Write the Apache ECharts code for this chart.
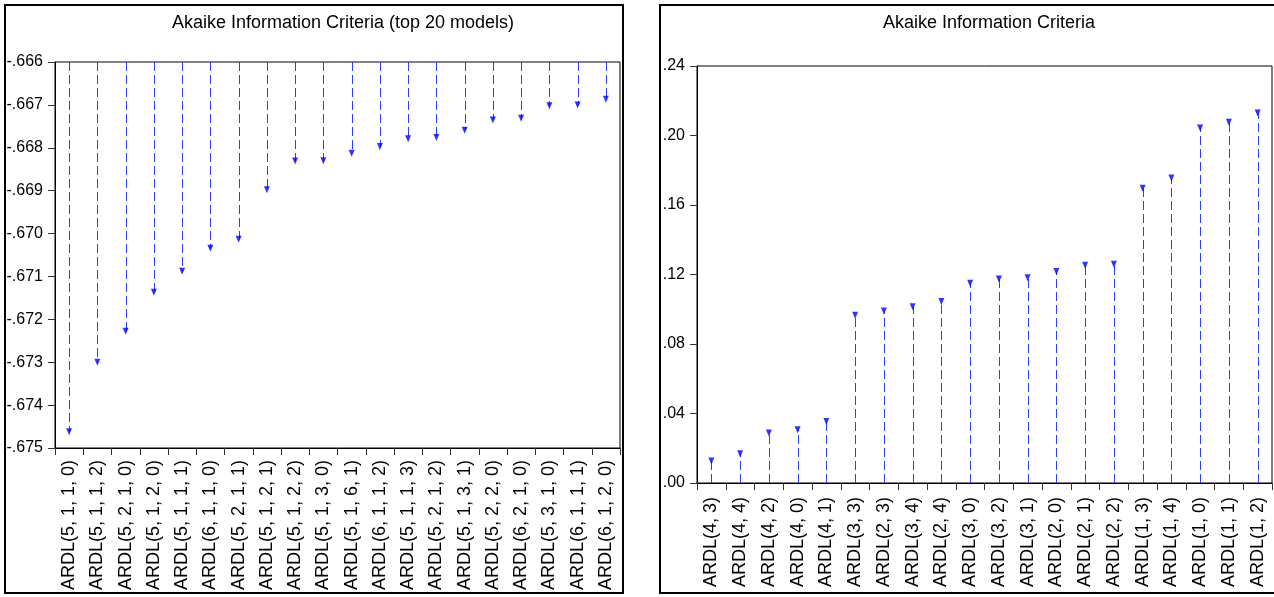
<!DOCTYPE html>
<html>
<head>
<meta charset="utf-8">
<script src="https://cdn.jsdelivr.net/npm/echarts@6/dist/echarts.min.js"></script>
<style>
  html, body { margin: 0; padding: 0; background: #fff; }
  #main { width: 1274px; height: 597px; }
</style>
</head>
<body>
<div id="main"></div>
<script>
// left panel: top 20 models
var leftModels = [
  'ARDL(5, 1, 1, 0)', 'ARDL(5, 1, 1, 2)', 'ARDL(5, 2, 1, 0)', 'ARDL(5, 1, 2, 0)',
  'ARDL(5, 1, 1, 1)', 'ARDL(6, 1, 1, 0)', 'ARDL(5, 2, 1, 1)', 'ARDL(5, 1, 2, 1)',
  'ARDL(5, 1, 2, 2)', 'ARDL(5, 1, 3, 0)', 'ARDL(5, 1, 6, 1)', 'ARDL(6, 1, 1, 2)',
  'ARDL(5, 1, 1, 3)', 'ARDL(5, 2, 1, 2)', 'ARDL(5, 1, 3, 1)', 'ARDL(5, 2, 2, 0)',
  'ARDL(6, 2, 1, 0)', 'ARDL(5, 3, 1, 0)', 'ARDL(6, 1, 1, 1)', 'ARDL(6, 1, 2, 0)'
];
var leftAic = [
  -0.67462, -0.67300, -0.67228, -0.67137, -0.67088, -0.67034, -0.67013, -0.66898,
  -0.66831, -0.66830, -0.66813, -0.66797, -0.66779, -0.66776, -0.66759, -0.66735,
  -0.66731, -0.66702, -0.66700, -0.66687
];
var leftBase = -0.666;

// right panel
var rightModels = [
  'ARDL(4, 3)', 'ARDL(4, 4)', 'ARDL(4, 2)', 'ARDL(4, 0)', 'ARDL(4, 1)',
  'ARDL(3, 3)', 'ARDL(2, 3)', 'ARDL(3, 4)', 'ARDL(2, 4)', 'ARDL(3, 0)',
  'ARDL(3, 2)', 'ARDL(3, 1)', 'ARDL(2, 0)', 'ARDL(2, 1)', 'ARDL(2, 2)',
  'ARDL(1, 3)', 'ARDL(1, 4)', 'ARDL(1, 0)', 'ARDL(1, 1)', 'ARDL(1, 2)'
];
var rightAic = [
  0.0127, 0.0169, 0.0288, 0.0306, 0.0354,
  0.0965, 0.0990, 0.1015, 0.1044, 0.1149,
  0.1174, 0.1182, 0.1217, 0.1253, 0.1259,
  0.1697, 0.1755, 0.2043, 0.2076, 0.2130
];
var rightBase = 0;

var chart = echarts.init(document.getElementById('main'));

var FONT = 'Liberation Sans, Arial, sans-serif';
var stemColor = '#1428ff';

function stemSeries(idx, vals, base) {
  return {
    type: 'custom',
    xAxisIndex: idx,
    yAxisIndex: idx,
    data: vals.map(function (v, i) { return [i, v]; }),
    encode: { x: 0, y: 1 },
    renderItem: function (params, api) {
      var p0 = api.coord([api.value(0), base]);
      var p1 = api.coord([api.value(0), api.value(1)]);
      // snap to pixel so the 1px dashes stay crisp
      var x = Math.round(p0[0]) + 0.5;
      return {
        type: 'line',
        shape: { x1: x, y1: p0[1], x2: x, y2: p1[1] },
        style: { stroke: stemColor, lineWidth: 1, lineDash: [9, 4], opacity: 0.9 }
      };
    },
    silent: true
  };
}

function markerSeries(idx, vals) {
  return {
    type: 'scatter',
    xAxisIndex: idx,
    yAxisIndex: idx,
    data: vals,
    symbol: 'triangle',
    symbolRotate: 180,
    symbolSize: [6, 7],
    itemStyle: { color: '#0000ff' },
    silent: true
  };
}

function catAxis(idx, cats, margin) {
  return {
    type: 'category',
    gridIndex: idx,
    data: cats,
    boundaryGap: true,
    axisLine: { lineStyle: { color: '#000', width: 1 } },
    axisTick: { show: true, length: 7, lineStyle: { color: '#333' } },
    axisLabel: {
      rotate: 90, interval: 0, margin: margin,
      color: '#000', fontFamily: FONT, fontSize: 18
    },
    splitLine: { show: false }
  };
}

function valAxis(idx, min, max, interval, digits) {
  return {
    type: 'value',
    gridIndex: idx,
    min: min, max: max, interval: interval,
    axisLine: { show: true, lineStyle: { color: '#000', width: 1 } },
    axisTick: { show: true, length: 7, lineStyle: { color: '#333' } },
    axisLabel: {
      margin: 12, color: '#000', fontFamily: FONT, fontSize: 16,
      formatter: function (v) { return v.toFixed(digits).replace('0.', '.'); }
    },
    splitLine: { show: false }
  };
}

chart.setOption({
  animation: false,
  backgroundColor: '#fff',
  title: [
    {
      text: 'Akaike Information Criteria (top 20 models)',
      left: 338, top: 9, textAlign: 'center',
      textStyle: { fontFamily: FONT, fontSize: 18, fontWeight: 'normal', color: '#000' }
    },
    {
      text: 'Akaike Information Criteria',
      left: 984, top: 9, textAlign: 'center',
      textStyle: { fontFamily: FONT, fontSize: 18, fontWeight: 'normal', color: '#000' }
    }
  ],
  graphic: [
    { type: 'rect', shape: { x: 5, y: 5, width: 618, height: 588 },
      style: { fill: 'none', stroke: '#000', lineWidth: 2 }, z: 100 },
    { type: 'rect', shape: { x: 660, y: 5, width: 620, height: 588 },
      style: { fill: 'none', stroke: '#000', lineWidth: 2 }, z: 100 }
  ],
  grid: [
    { left: 55, top: 62, width: 565, height: 386, show: true,
      borderColor: '#000', borderWidth: 1, backgroundColor: '#fff' },
    { left: 697, top: 66, width: 575, height: 417, show: true,
      borderColor: '#000', borderWidth: 1, backgroundColor: '#fff' }
  ],
  xAxis: [catAxis(0, leftModels, 12), catAxis(1, rightModels, 14)],
  yAxis: [valAxis(0, -0.675, -0.666, 0.001, 3), valAxis(1, 0, 0.24, 0.04, 2)],
  series: [
    stemSeries(0, leftAic, leftBase),
    markerSeries(0, leftAic),
    stemSeries(1, rightAic, rightBase),
    markerSeries(1, rightAic)
  ]
});
</script>
</body>
</html>
